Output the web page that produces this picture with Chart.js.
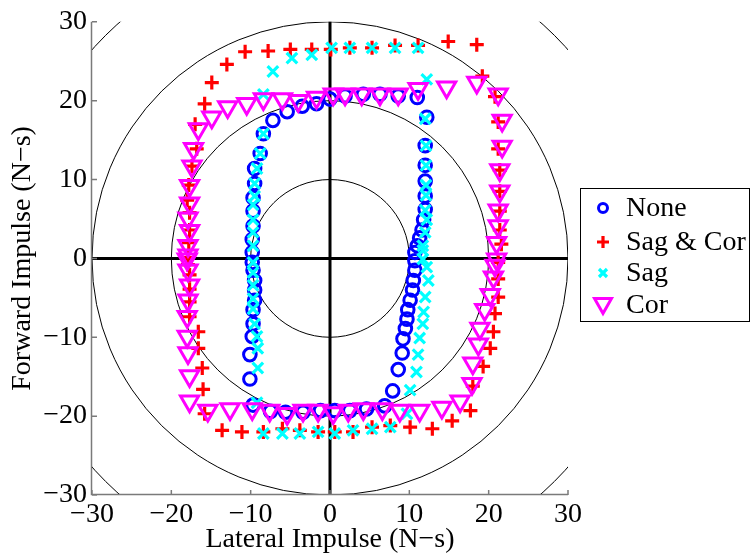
<!DOCTYPE html>
<html>
<head>
<meta charset="utf-8">
<script src="https://cdn.jsdelivr.net/npm/chart.js@4.4.0/dist/chart.umd.min.js"></script>
<style>
  html, body { margin: 0; padding: 0; background: #fff; }
  #wrap { width: 751px; height: 556px; }
</style>
</head>
<body>
<div id="wrap"><canvas id="impulseChart" width="751" height="556"></canvas></div>
<script>
const serif = "'Liberation Serif', 'Times New Roman', serif";

const axisTicks = [-30, -20, -10, 0, 10, 20, 30];
const ringRadii = [10, 20, 30, 40];
const seriesNames = ["None", "Sag & Cor", "Sag", "Cor"];

// None
const noneX = [0.0, 1.9, 4.2, 6.3, 8.6, 11.0, 12.2, 12.0, 12.0, 12.0, 12.0, 12.0, 11.8, 11.6, 11.3, 11.0, 10.7,
  10.7, 10.7, 10.5, 10.4, 10.1, 9.8, 9.7, 9.5, 9.2, 9.1, 8.6, 7.9, 6.9, 4.6, 2.5, 0.6, -1.2, -3.4, -5.6, -7.5,
  -9.7, -10.1, -10.1, -9.8, -9.7, -9.7, -9.5, -9.5, -9.5, -9.7, -9.8, -9.8, -9.8, -9.7, -9.7, -9.7, -9.5, -9.5,
  -8.8, -8.4, -7.2, -5.4, -3.5, -1.7];
const noneY = [20.2, 20.6, 20.8, 20.8, 20.6, 20.4, 17.9, 14.3, 11.8, 9.8, 7.9, 6.2, 4.9, 3.6, 2.6, 1.6, 0.75,
  -0.3, -1.5, -2.8, -4.0, -5.3, -6.5, -7.7, -8.9, -10.2, -12.0, -14.1, -16.8, -18.7, -19.1, -19.3, -19.3, -19.3,
  -19.5, -19.5, -19.4, -18.6, -15.3, -12.2, -9.9, -8.3, -6.5, -5.3, -4.0, -2.8, -1.5, -0.5, 0.75, 2.4, 4.1, 6.0,
  7.7, 9.5, 11.4, 13.3, 15.8, 17.5, 18.6, 19.3, 19.6];

// Sag & Cor
const sagCorX = [0.1, 2.5, 5.3, 8.2, 11.1, 14.9, 18.5, 19.2, 20.8, 21.2, 21.2, 21.4, 21.4, 21.4, 21.4, 21.6,
  21.2, 21.2, 21.2, 20.8, 20.6, 20.2, 19.3, 18.0, 17.7, 15.4, 12.9, 10.1, 7.6, 5.3, 2.9, 0.6, -1.5, -3.8, -6.0,
  -8.4, -11.1, -13.6, -15.8, -16.0, -16.1, -16.6, -16.6, -17.7, -17.7, -17.7, -17.7, -17.9, -17.9, -17.8, -17.7,
  -17.7, -18.0, -17.8, -17.4, -16.8, -17.0, -15.8, -14.9, -13.0, -10.7, -7.8, -5.0, -2.3];
const sagCorY = [26.5, 26.7, 26.7, 27.0, 27.0, 27.5, 27.1, 23.1, 20.5, 17.3, 13.9, 11.2, 8.5, 6.0, 3.6, 1.8,
  -0.5, -2.6, -4.9, -7.0, -9.3, -11.4, -13.7, -16.2, -19.3, -20.6, -21.6, -21.4, -21.2, -21.4, -22.0, -22.0,
  -22.0, -21.8, -21.6, -22.0, -22.0, -21.8, -19.7, -16.6, -13.9, -11.4, -9.3, -7.4, -5.5, -3.9, -2.1, -0.8, 0.1,
  2.0, 3.6, 5.8, 7.4, 9.3, 11.7, 13.9, 17.0, 19.6, 22.3, 24.6, 26.2, 26.3, 26.5, 26.5];

// Sag
const sagX = [0.2, 2.5, 5.3, 8.2, 11.1, 12.2, 12.0, 12.1, 12.1, 12.1, 12.1, 12.0, 12.2, 12.0, 11.7, 11.7, 11.7,
  12.2, 12.4, 12.0, 11.8, 11.7, 11.3, 11.1, 10.9, 10.1, 9.7, 7.6, 5.3, 2.9, 0.6, -1.5, -3.8, -6.0, -8.4, -9.2,
  -9.1, -9.1, -9.2, -9.5, -9.7, -9.7, -9.7, -9.7, -9.7, -9.7, -9.7, -9.7, -9.7, -9.5, -9.5, -9.2, -8.8, -8.4,
  -8.4, -7.2, -4.8, -2.3];
const sagY = [26.7, 26.7, 26.7, 26.7, 26.7, 22.7, 17.7, 14.3, 11.8, 9.3, 8.0, 6.1, 4.9, 3.3, 1.6, 1.0, -0.1,
  -1.1, -2.8, -4.9, -6.8, -8.3, -10.1, -12.2, -14.4, -16.7, -19.7, -21.4, -21.6, -21.8, -22.2, -22.0, -22.2,
  -22.2, -22.2, -18.3, -13.9, -11.4, -9.9, -8.3, -6.4, -5.1, -3.4, -1.8, -0.5, 1.6, 3.3, 4.9, 6.8, 7.9, 9.5,
  11.4, 13.3, 15.8, 20.8, 23.7, 25.4, 25.8];

// Cor
const corX = [0.4, 1.9, 4.0, 6.3, 8.6, 11.1, 14.7, 18.5, 21.2, 21.7, 21.7, 21.4, 21.4, 21.2, 21.2, 21.0, 21.0,
  20.8, 20.6, 20.2, 19.5, 18.9, 18.7, 18.0, 17.9, 16.4, 14.1, 11.3, 8.8, 6.6, 4.2, 2.3, 0.4, -1.5, -3.4, -5.4,
  -7.6, -9.8, -12.6, -15.4, -17.7, -17.7, -17.9, -18.0, -18.0, -17.9, -17.7, -17.9, -18.0, -17.9, -17.9, -17.7,
  -17.9, -17.7, -17.7, -17.4, -17.2, -16.6, -14.9, -12.9, -10.5, -8.4, -6.0, -4.0, -1.7];
const corY = [20.8, 20.8, 20.8, 20.8, 20.8, 21.5, 21.7, 22.3, 20.8, 17.5, 14.2, 11.2, 8.5, 6.1, 4.1, 2.0, -0.1,
  -0.9, -2.4, -4.6, -6.5, -8.9, -10.9, -13.3, -15.9, -18.1, -18.9, -19.3, -19.3, -19.1, -19.1, -19.3, -19.6,
  -19.3, -19.3, -19.7, -19.3, -19.1, -19.1, -19.3, -18.1, -14.9, -12.0, -9.9, -7.4, -5.3, -3.4, -1.5, -0.1, 0.4,
  1.6, 3.5, 5.1, 7.0, 9.2, 11.7, 13.9, 16.4, 17.9, 19.2, 19.6, 20.2, 20.2, 20.0, 20.4];

function toPoints(xs, ys) {
  return xs.map((x, i) => ({ x: x, y: ys[i] }));
}

const markers = [
  { color: "#0000ff", style: "circle", radius: 6.3, width: 3, rotation: 0 },
  { color: "#ff0000", style: "cross", radius: 7, width: 3.2, rotation: 0 },
  { color: "#00ffff", style: "crossRot", radius: 7.5, width: 3.2, rotation: 0 },
  { color: "#ff00ff", style: "triangle", radius: 10.5, width: 3, rotation: 180 }
];

const seriesData = [toPoints(noneX, noneY), toPoints(sagCorX, sagCorY), toPoints(sagX, sagY), toPoints(corX, corY)];

const datasets = seriesNames.map((name, i) => ({
  label: name,
  data: seriesData[i],
  showLine: false,
  order: seriesNames.length - i,
  pointStyle: markers[i].style,
  pointRadius: markers[i].radius,
  pointRotation: markers[i].rotation,
  pointBorderColor: markers[i].color,
  pointBackgroundColor: "rgba(0,0,0,0)",
  pointBorderWidth: markers[i].width
}));

// rings, zero lines, axis lines and inward ticks
const backdrop = {
  id: "backdrop",
  beforeDatasetsDraw(chart) {
    const { ctx, chartArea: a, scales: { x, y } } = chart;
    const cx = x.getPixelForValue(0), cy = y.getPixelForValue(0);
    ctx.save();
    ctx.beginPath();
    ctx.rect(a.left, a.top, a.right - a.left, a.bottom - a.top);
    ctx.clip();
    ctx.strokeStyle = "#000";
    ctx.lineWidth = 1;
    ringRadii.forEach(r => {
      const rx = x.getPixelForValue(r) - cx;
      const ry = cy - y.getPixelForValue(r);
      ctx.beginPath();
      ctx.ellipse(cx, cy, rx, ry, 0, 0, Math.PI * 2);
      ctx.stroke();
    });
    ctx.restore();

    ctx.save();
    ctx.strokeStyle = "#000";
    ctx.lineWidth = 3;
    ctx.beginPath();
    ctx.moveTo(a.left, cy); ctx.lineTo(a.right, cy);
    ctx.moveTo(cx, a.top); ctx.lineTo(cx, a.bottom);
    ctx.stroke();

    ctx.strokeStyle = "#7a7a7a";
    ctx.lineWidth = 1.5;
    ctx.beginPath();
    ctx.moveTo(a.left - 0.5, a.top);
    ctx.lineTo(a.left - 0.5, a.bottom - 0.5);
    ctx.lineTo(a.right, a.bottom - 0.5);
    axisTicks.forEach(t => {
      const px = x.getPixelForValue(t);
      ctx.moveTo(px, a.bottom); ctx.lineTo(px, a.bottom - 5);
      const py = y.getPixelForValue(t);
      ctx.moveTo(a.left, py); ctx.lineTo(a.left + 5, py);
    });
    ctx.stroke();
    ctx.restore();
  }
};

function drawMarker(ctx, m, px, py) {
  ctx.save();
  ctx.strokeStyle = m.color;
  ctx.lineWidth = m.width;
  ctx.beginPath();
  if (m.style === "circle") {
    ctx.arc(px, py, 4.5, 0, Math.PI * 2);
  } else if (m.style === "cross") {
    ctx.moveTo(px - 6, py); ctx.lineTo(px + 6, py);
    ctx.moveTo(px, py - 6); ctx.lineTo(px, py + 6);
  } else if (m.style === "crossRot") {
    ctx.moveTo(px - 4, py - 4); ctx.lineTo(px + 4, py + 4);
    ctx.moveTo(px - 4, py + 4); ctx.lineTo(px + 4, py - 4);
  } else {
    ctx.moveTo(px - 8.5, py - 6.5); ctx.lineTo(px + 8.5, py - 6.5); ctx.lineTo(px, py + 8.5);
    ctx.closePath();
  }
  ctx.stroke();
  ctx.restore();
}

// boxed legend to the right of the axes
const boxLegend = {
  id: "boxLegend",
  afterDraw(chart) {
    const ctx = chart.ctx;
    const left = 580, top = 188, right = 750, bottom = 322;
    ctx.save();
    ctx.fillStyle = "#fff";
    ctx.fillRect(left, top, right - left, bottom - top);
    ctx.strokeStyle = "#000";
    ctx.lineWidth = 1;
    ctx.strokeRect(left + 0.5, top + 0.5, right - left - 1, bottom - top - 1);
    ctx.font = "normal 28px " + serif;
    ctx.fillStyle = "#000";
    ctx.textBaseline = "middle";
    const rows = [208, 242, 273, 305];
    seriesNames.forEach((name, i) => {
      drawMarker(ctx, markers[i], 603, rows[i]);
      ctx.fillText(name, 626, rows[i] + 1);
    });
    ctx.restore();
  }
};

const fmt = v => (v < 0 ? "\u2212" + Math.abs(v) : String(v));

new Chart(document.getElementById("impulseChart"), {
  type: "scatter",
  data: { datasets: datasets },
  options: {
    responsive: false,
    animation: false,
    devicePixelRatio: 1,
    layout: { padding: { left: 0, top: 17, right: 183, bottom: 0 } },
    plugins: {
      legend: { display: false },
      tooltip: { enabled: false }
    },
    scales: {
      x: {
        type: "linear",
        min: -30,
        max: 30,
        afterFit: scale => { scale.height = 61; },
        afterBuildTicks: scale => { scale.ticks = axisTicks.map(v => ({ value: v })); },
        grid: { display: false, drawTicks: false },
        border: { display: false },
        ticks: {
          color: "#000",
          padding: 3,
          maxRotation: 0,
          autoSkip: false,
          font: { family: serif, size: 28 },
          callback: fmt
        },
        title: {
          display: true,
          text: "Lateral Impulse (N\u2212s)",
          color: "#000",
          padding: { top: 0, bottom: 0 },
          font: { family: serif, size: 28 }
        }
      },
      y: {
        type: "linear",
        min: -30,
        max: 30,
        afterFit: scale => { scale.width = 92; },
        afterBuildTicks: scale => { scale.ticks = axisTicks.map(v => ({ value: v })); },
        grid: { display: false, drawTicks: false },
        border: { display: false },
        ticks: {
          color: "#000",
          padding: 5,
          autoSkip: false,
          font: { family: serif, size: 28 },
          callback: fmt
        },
        title: {
          display: true,
          text: "Forward Impulse (N\u2212s)",
          color: "#000",
          padding: { top: 6, bottom: 0 },
          font: { family: serif, size: 28 }
        }
      }
    }
  },
  plugins: [backdrop, boxLegend]
});
</script>
</body>
</html>
